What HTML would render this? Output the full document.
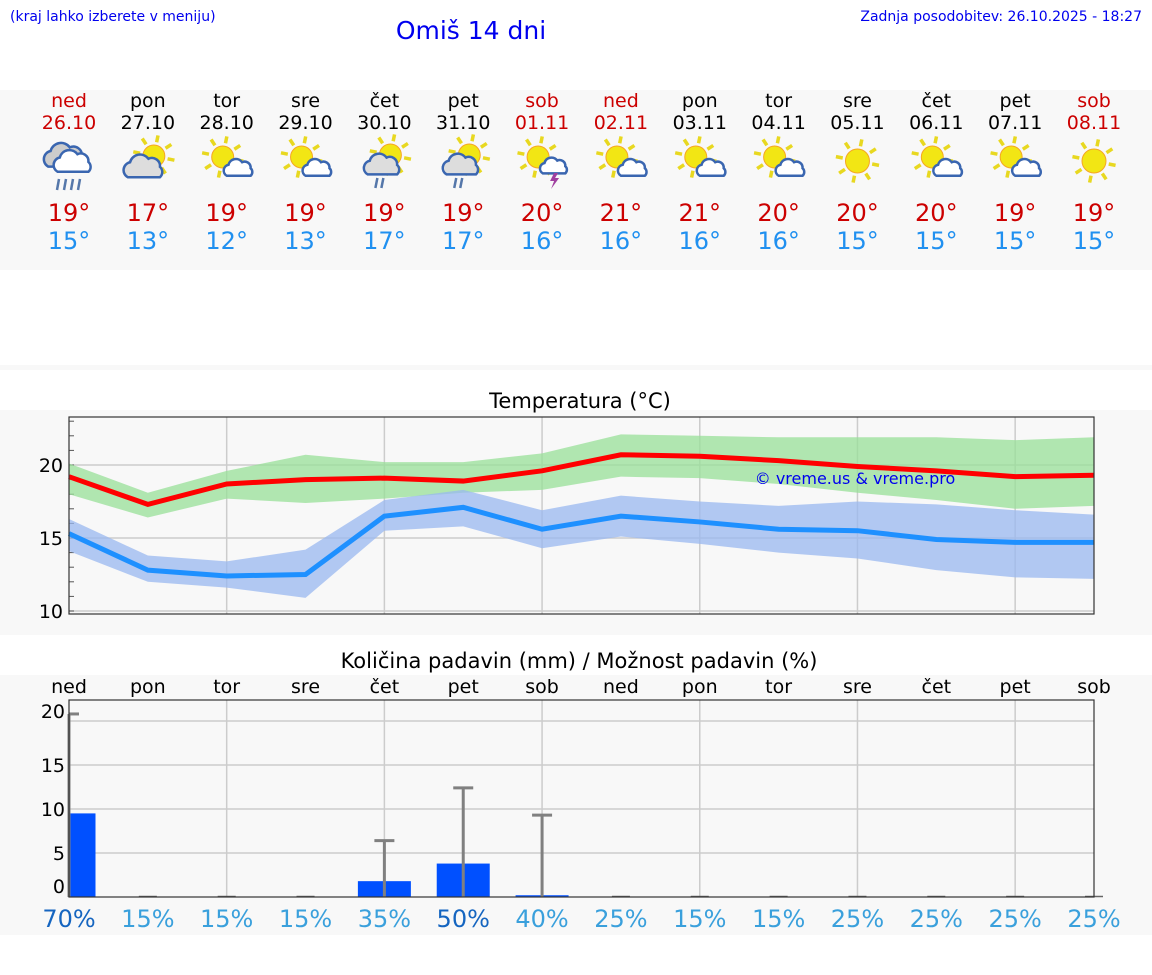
<!DOCTYPE html>
<html><head><meta charset="utf-8"><style>
body{margin:0;background:#fff;width:1152px;height:975px;overflow:hidden;font-family:"DejaVu Sans","Liberation Sans",sans-serif}
svg{display:block}
</style></head><body>
<svg id="s" width="1152" height="975" xmlns="http://www.w3.org/2000/svg" font-family="DejaVu Sans, Liberation Sans, sans-serif">
<rect x="0" y="90" width="1152" height="180" fill="#f8f8f8"/>
<rect x="0" y="365" width="1152" height="5" fill="#f8f8f8"/>
<rect x="0" y="410" width="1152" height="225" fill="#f8f8f8"/>
<rect x="0" y="675" width="1152" height="260" fill="#f8f8f8"/>
<text x="10" y="21" font-size="14" fill="#0000ee">(kraj lahko izberete v meniju)</text>
<text x="471" y="39" font-size="25" fill="#0000ee" text-anchor="middle">Omiš 14 dni</text>
<text x="1142" y="21" font-size="14" fill="#0000ee" text-anchor="end">Zadnja posodobitev: 26.10.2025 - 18:27</text>
<g id="hdr"></g>
<text x="580" y="408" font-size="21" text-anchor="middle">Temperatura (°C)</text>
<g id="tc"></g>
<text x="579" y="668" font-size="21" text-anchor="middle">Količina padavin (mm) / Možnost padavin (%)</text>
<g id="pc"></g>
</svg>
<script>
const days=["ned","pon","tor","sre","čet","pet","sob","ned","pon","tor","sre","čet","pet","sob"];
const dates=["26.10","27.10","28.10","29.10","30.10","31.10","01.11","02.11","03.11","04.11","05.11","06.11","07.11","08.11"];
const icons=["rain","cloudsun","suncloud","suncloud","sunrain","sunrain","storm","suncloud","suncloud","suncloud","sun","suncloud","suncloud","sun"];
const tmaxTxt=[19,17,19,19,19,19,20,21,21,20,20,20,19,19];
const tminTxt=[15,13,12,13,17,17,16,16,16,16,15,15,15,15];
const tmax=[19.2,17.3,18.7,19.0,19.1,18.9,19.6,20.7,20.6,20.3,19.9,19.6,19.2,19.3];
const tmaxHi=[20.1,18.1,19.6,20.7,20.2,20.2,20.8,22.1,22.0,21.9,21.9,21.9,21.7,21.9];
const tmaxLo=[18.0,16.4,17.7,17.4,17.7,18.1,18.3,19.2,19.1,18.7,18.1,17.6,17.0,17.2];
const tmin=[15.3,12.8,12.4,12.5,16.5,17.1,15.6,16.5,16.1,15.6,15.5,14.9,14.7,14.7];
const tminHi=[16.3,13.8,13.4,14.2,17.6,18.3,16.9,17.9,17.5,17.2,17.5,17.3,16.9,16.6];
const tminLo=[14.1,12.0,11.6,10.9,15.5,15.8,14.3,15.1,14.6,14.0,13.6,12.8,12.3,12.2];
const precip=[9.5,0,0,0,1.8,3.8,0.2,0,0,0,0,0,0,0];
const precipMax=[20.8,0,0,0,6.4,12.4,9.3,0,0,0,0,0,0,0];
const chance=[70,15,15,15,35,50,40,25,15,15,25,25,25,25];
const tTicks=[10,15,20];
const pTicks=[0,5,10,15,20];
const NS="http://www.w3.org/2000/svg";
function mk(p,t,a){const e=document.createElementNS(NS,t);for(const k in a)e.setAttribute(k,a[k]);p.appendChild(e);return e;}
const X0=69,X1=1094,dx=(X1-X0)/13;
const xd=i=>X0+dx*i;
const wkRed=d=>d==="ned"||d==="sob";
const hdr=document.getElementById('hdr');
function icon(g,type,cx,cy){
  const sun=(sx,sy,r)=>{for(let k=0;k<8;k++){const a=k*Math.PI/4+0.2;mk(g,'line',{x1:sx+Math.cos(a)*(r+3),y1:sy+Math.sin(a)*(r+3),x2:sx+Math.cos(a)*(r+10),y2:sy+Math.sin(a)*(r+10),stroke:'#e8d820','stroke-width':3.5});}
    mk(g,'circle',{cx:sx,cy:sy,r:r,fill:'#f2e614',stroke:'#f5a623','stroke-width':1});};
  const cloud=(x,y,s,fill)=>{const p=`M${x-14*s},${y+8*s} a${7*s} ${7*s} 0 0 1 ${2*s},${-13*s} a${9*s} ${9*s} 0 0 1 ${16*s},${-3*s} a${7*s} ${7*s} 0 0 1 ${10*s},${7*s} a${6*s} ${6*s} 0 0 1 0,${9*s} z`;
    mk(g,'path',{d:p,fill:fill,stroke:'#3a66b0','stroke-width':2.5});};
  if(type==='rain'){cloud(cx-4,cy-4,1.2,'#ccc');cloud(cx+4,cy+2,1.1,'#fff');for(let k=0;k<4;k++)mk(g,'line',{x1:cx-10+k*7,y1:cy+18,x2:cx-12+k*7,y2:cy+29,stroke:'#5577aa','stroke-width':2.5});}
  else if(type==='cloudsun'){sun(cx+6,cy-5,11);cloud(cx-4,cy+7,1.15,'#ddd');}
  else if(type==='suncloud'){sun(cx-4,cy-4,11);cloud(cx+12,cy+8,0.85,'#fff');}
  else if(type==='sunrain'){sun(cx+6,cy-6,11);cloud(cx-2,cy+5,1.05,'#ddd');mk(g,'line',{x1:cx-7,y1:cy+17,x2:cx-9,y2:cy+27,stroke:'#5577aa','stroke-width':2.5});mk(g,'line',{x1:cx-1,y1:cy+17,x2:cx-3,y2:cy+27,stroke:'#5577aa','stroke-width':2.5});}
  else if(type==='storm'){sun(cx-4,cy-4,11);cloud(cx+12,cy+6,0.8,'#fff');mk(g,'path',{d:`M${cx+12},${cy+12} l-4,8 h4 l-3,8 l8,-11 h-4 l3,-5z`,fill:'#a040a0'});}
  else sun(cx,cy,12);
}
days.forEach((d,i)=>{
  const x=xd(i);
  let t=mk(hdr,'text',{x:x,y:107,'font-size':19,'text-anchor':'middle',fill:wkRed(d)?'#cc0000':'#000'});t.textContent=d;
  
  t=mk(hdr,'text',{x:x,y:129,'font-size':19,'text-anchor':'middle',fill:wkRed(d)?'#cc0000':'#000'});t.textContent=dates[i];
  
  const g=mk(hdr,'g',{});
  icon(g,icons[i],x,161);
  t=mk(hdr,'text',{x:x,y:221,'font-size':24,'text-anchor':'middle',fill:'#cc0000'});t.textContent=tmaxTxt[i]+'°';
  
  t=mk(hdr,'text',{x:x,y:249,'font-size':24,'text-anchor':'middle',fill:'#2090f0'});t.textContent=tminTxt[i]+'°';
  
});
const tc=document.getElementById('tc');
const TY0=417,TY1=614;
const yt=v=>465-(v-20)*14.6;
mk(tc,'rect',{x:X0,y:TY0,width:X1-X0,height:TY1-TY0,fill:'#f8f8f8'});
for(let i=2;i<13;i+=2)mk(tc,'line',{x1:xd(i),y1:TY0,x2:xd(i),y2:TY1,stroke:'#ccc','stroke-width':1.5});
tTicks.forEach(v=>{mk(tc,'line',{x1:X0,y1:yt(v),x2:X1,y2:yt(v),stroke:'#ccc','stroke-width':1.5});
  const t=mk(tc,'text',{x:X0-6,y:yt(v)+7,'font-size':19,'text-anchor':'end'});t.textContent=v;
  });
for(let v=10;v<=23;v++)mk(tc,'line',{x1:X0,y1:yt(v),x2:X0+5,y2:yt(v),stroke:'#555'});
const band=(hi,lo,c,name)=>{let d='M'+hi.map((v,i)=>xd(i)+','+yt(v)).join(' L');d+=' L'+lo.map((v,i)=>xd(i)+','+yt(v)).reverse().join(' L')+'Z';
  const p=mk(tc,'path',{d:d,fill:c,opacity:0.75});};
band(tmaxHi,tmaxLo,'#98e098','max-temp-band');
band(tminHi,tminLo,'#9ab8f0','min-temp-band');
const line=(a,c,name)=>{const p=mk(tc,'polyline',{points:a.map((v,i)=>xd(i)+','+yt(v)).join(' '),fill:'none',stroke:c,'stroke-width':5});};
line(tmax,'#ff0000','max-temp-line');
line(tmin,'#1e90ff','min-temp-line');
mk(tc,'rect',{x:X0,y:TY0,width:X1-X0,height:TY1-TY0,fill:'none',stroke:'#333','stroke-width':1.2});
let wm=mk(tc,'text',{x:855,y:484,'font-size':16,'text-anchor':'middle',fill:'#0000ee'});wm.textContent='© vreme.us & vreme.pro';

const pc=document.getElementById('pc');
const PY0=700,PY1=897;
const yp=v=>897-v*8.8;
mk(pc,'rect',{x:X0,y:PY0,width:X1-X0,height:PY1-PY0,fill:'#f8f8f8'});
for(let i=2;i<13;i+=2)mk(pc,'line',{x1:xd(i),y1:PY0,x2:xd(i),y2:PY1,stroke:'#ccc','stroke-width':1.5});
pTicks.forEach(v=>{if(v>0)mk(pc,'line',{x1:X0,y1:yp(v),x2:X1,y2:yp(v),stroke:'#ccc','stroke-width':1.5});
  const off=v===0?-4:(v===20?-3:7);
  const t=mk(pc,'text',{x:X0-4,y:yp(v)+off,'font-size':19,'text-anchor':'end'});t.textContent=v;
  });
days.forEach((d,i)=>{
  const x=xd(i);
  let t=mk(pc,'text',{x:x,y:693,'font-size':19,'text-anchor':'middle'});t.textContent=d;
  
  const w=53;const bx=i===0?X0:x-w/2;const bw=i===0?w/2:w;
  if(precip[i]>0){const r=mk(pc,'rect',{x:bx,y:yp(precip[i]),width:bw,height:PY1-yp(precip[i]),fill:'#0050ff'});
    }
  else{mk(pc,'line',{x1:x-9,y1:PY1-0.5,x2:x+9,y2:PY1-0.5,stroke:'#666','stroke-width':1.5});}
  if(precipMax[i]>0){const g=mk(pc,'g',{stroke:'#808080','stroke-width':3});
    mk(g,'line',{x1:x,y1:PY1,x2:x,y2:yp(precipMax[i])});mk(g,'line',{x1:Math.max(X0,x-10),y1:yp(precipMax[i]),x2:x+10,y2:yp(precipMax[i])});}
  t=mk(pc,'text',{x:x,y:927,'font-size':24,'text-anchor':'middle',fill:chance[i]>=50?'#1565c0':'#3aa0dc'});t.textContent=chance[i]+'%';
  
});
mk(pc,'rect',{x:X0,y:PY0,width:X1-X0,height:PY1-PY0,fill:'none',stroke:'#333','stroke-width':1.2});
</script>
</body></html>
